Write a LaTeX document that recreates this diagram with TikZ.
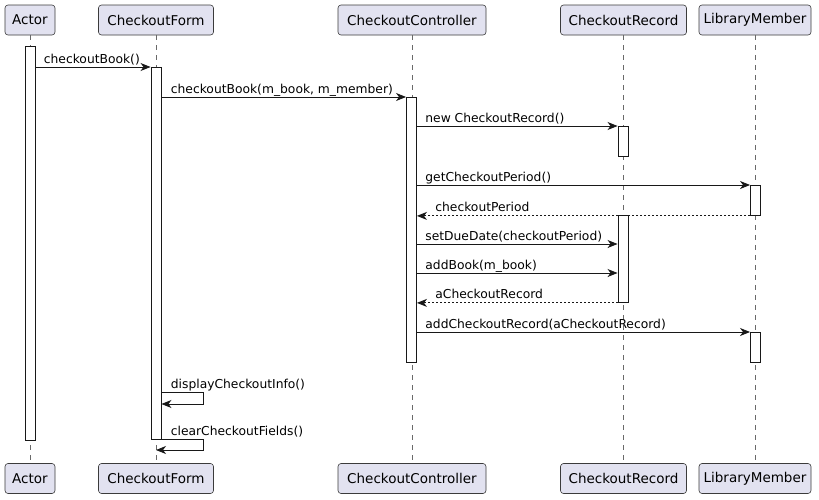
\documentclass[tikz,border=0pt]{standalone}
\usepackage{fontspec}
\setmainfont{DejaVu Sans}
\usetikzlibrary{positioning,arrows.meta,calc}
\definecolor{partfill}{HTML}{E2E2F0}
\definecolor{partline}{HTML}{181818}

\begin{document}
\begin{tikzpicture}[x=1pt, y=-1pt,
  p/.style={draw=partline!85, line width=0.6pt, fill=partfill, rounded corners=3pt,
            minimum height=30pt, inner sep=0, font=\fontsize{13.5}{16}\selectfont},
  life/.style={draw=partline!65, line width=0.6pt, dash pattern=on 5pt off 5pt},
  act/.style={draw=partline, fill=white, line width=0.9pt, minimum width=10pt,
              inner sep=0, anchor=north},
  msg/.style={draw=partline, line width=0.9pt,
              -{Stealth[length=10pt, width=8pt, inset=3pt]}},
  ret/.style={msg, dash pattern=on 2pt off 2pt},
  lbl/.style={anchor=base west, inner sep=0, yshift=4pt,
              font=\fontsize{12.3}{14}\selectfont}]
\useasboundingbox (0,0) rectangle (819,499);
% participants: name/text/centre/width
\foreach \n/\t/\x/\w in {actor/Actor/30/50, form/CheckoutForm/156/115,
    ctrl/CheckoutController/412/148, rec/CheckoutRecord/623.5/126,
    mem/LibraryMember/755/112} {
  \node[p, minimum width=\w pt] (\n-h) at (\x, 20) {\t};
  \node[p, minimum width=\w pt] (\n-f) at (\x, 478.5) {\t};
  \draw[life] (\n-h.south) -- (\n-f.north);
}
% activations
\node[act, minimum height=394pt] (aActor) at (30,46) {};
\node[act, minimum height=372pt] (aForm) at (156,67) {};
\node[act, minimum height=265pt] (aCtrl) at (411.5,97) {};
\node[act, minimum height=30pt] (aRec1) at (623,126) {};
\node[act, minimum height=30pt] (aMem1) at (755.5,185) {};
\node[act, minimum height=87pt] (aRec2) at (623,215) {};
\node[act, minimum height=30pt] (aMem2) at (755.5,332) {};
% calls
\draw[msg] (aActor.east |- aForm.north) -- node[lbl, pos=0, xshift=8pt]
  {checkoutBook()} (aForm.north west);
\draw[msg] (aForm.east |- aCtrl.north) -- node[lbl, pos=0, xshift=9pt]
  {checkoutBook(m\_book, m\_member)} (aCtrl.north west);
\draw[msg] (aCtrl.east |- aRec1.north) -- node[lbl, pos=0, xshift=8pt]
  {new CheckoutRecord()} (aRec1.north west);
\draw[msg] (aCtrl.east |- aMem1.north) -- node[lbl, pos=0, xshift=8pt]
  {getCheckoutPeriod()} (aMem1.north west);
\draw[ret] (aMem1.south west) -- node[lbl, pos=1, xshift=18pt]
  {checkoutPeriod} (aCtrl.east |- aMem1.south);
\draw[msg] (aCtrl.east |- 0,244) -- node[lbl, pos=0, xshift=8pt]
  {setDueDate(checkoutPeriod)} (aRec2.west |- 0,244);
\draw[msg] (aCtrl.east |- 0,273) -- node[lbl, pos=0, xshift=8pt]
  {addBook(m\_book)} (aRec2.west |- 0,273);
\draw[ret] (aRec2.south west) -- node[lbl, pos=1, xshift=18pt]
  {aCheckoutRecord} (aCtrl.east |- aRec2.south);
\draw[msg] (aCtrl.east |- aMem2.north) -- node[lbl, pos=0, xshift=8pt]
  {addCheckoutRecord(aCheckoutRecord)} (aMem2.north west);
% self calls on the form
\draw[msg] (aForm.east |- 0,392) node[lbl, xshift=9pt] {displayCheckoutInfo()}
  -- ++(42,0) |- (aForm.east |- 0,404);
\draw[msg] (aForm.south east) node[lbl, xshift=9pt] {clearCheckoutFields()}
  -- ++(42,0) |- (form-h.south |- 0,450);
\end{tikzpicture}
\end{document}
